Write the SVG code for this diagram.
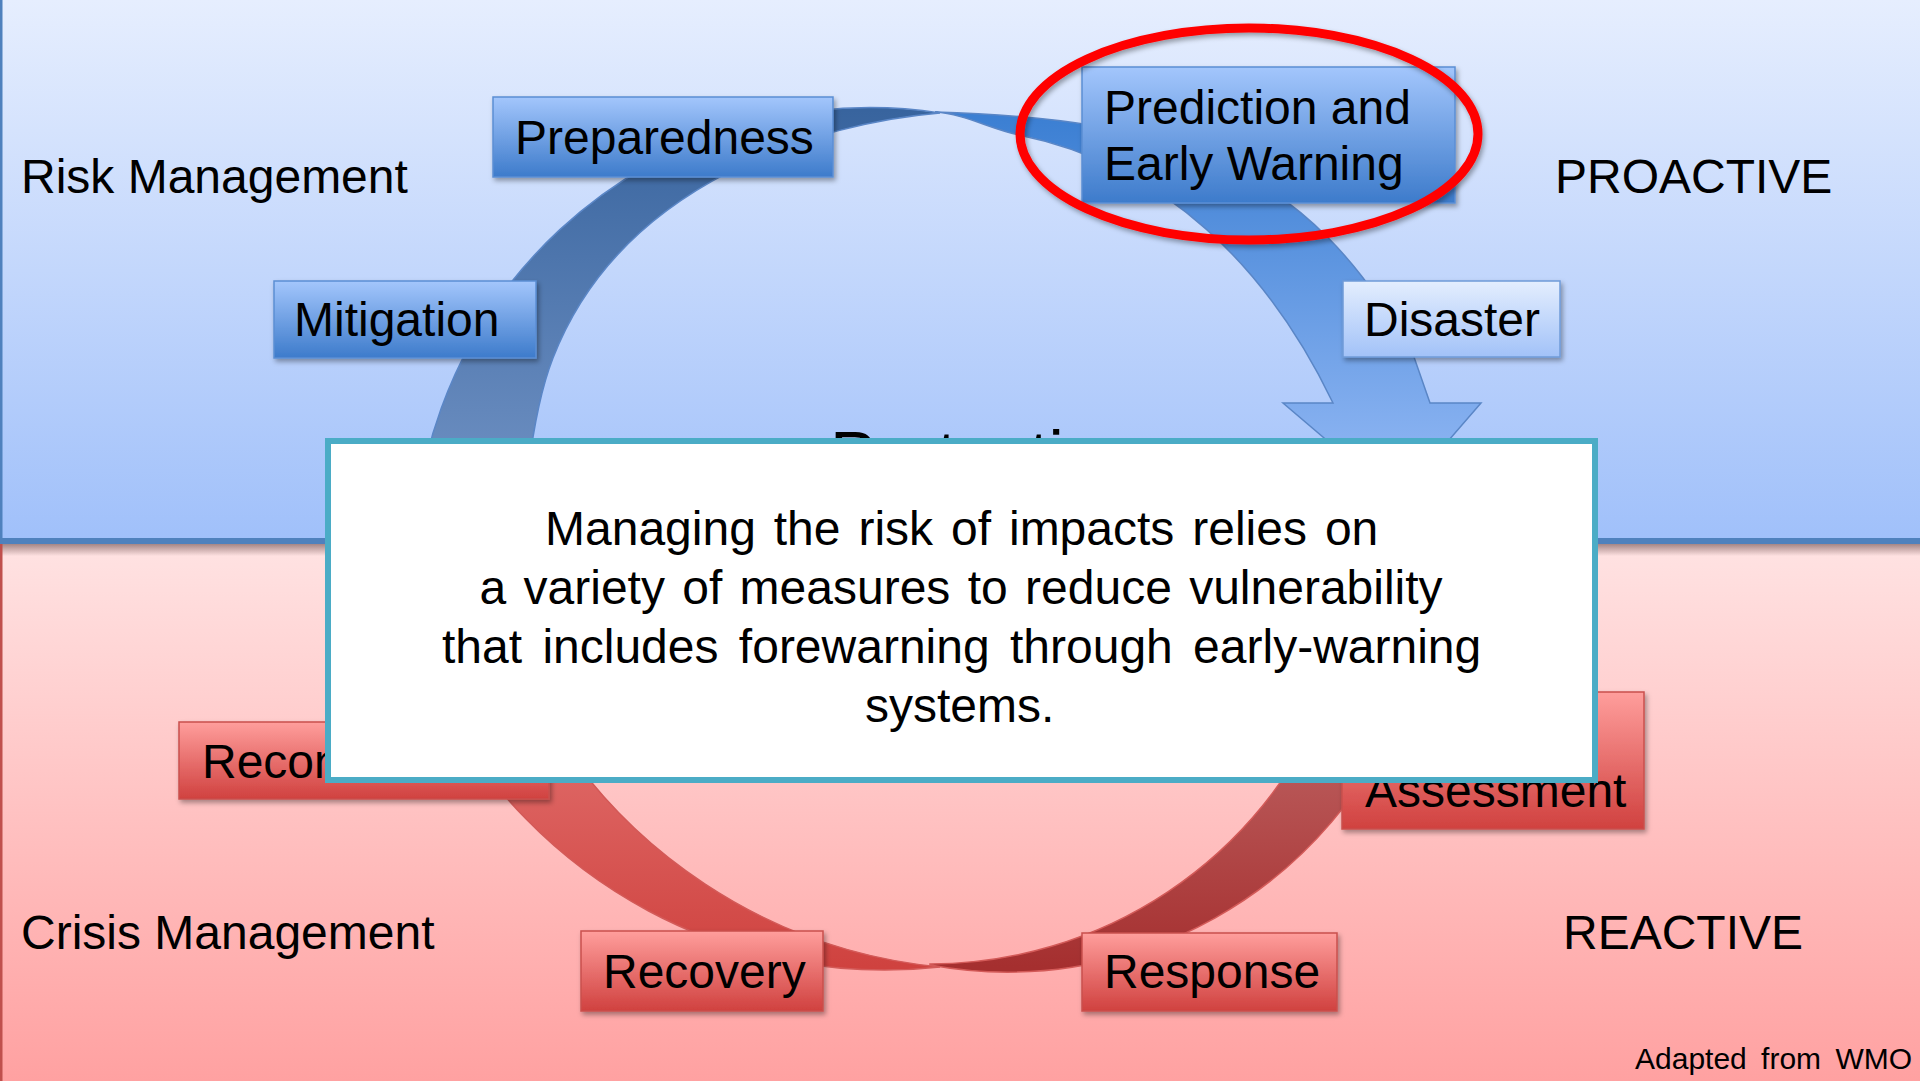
<svg xmlns="http://www.w3.org/2000/svg" width="1920" height="1081" viewBox="0 0 1920 1081">
  <style>
    text { font-family: "Liberation Sans", Arial, sans-serif; fill: #000; }
    .lbl { font-size: 48px; }
    .side { font-size: 48px; }
    .body { font-size: 48px; }
    .note { font-size: 30px; word-spacing: 6px; }
    .nb { fill: url(#boxBlue); stroke: #5b8ed4; stroke-width: 1.5; }
    .np { fill: url(#boxPale); stroke: #6f9bd8; stroke-width: 1.5; }
    .nr { fill: url(#boxRed); stroke: #c9504d; stroke-width: 1.5; }
    .arcB { stroke: #5a86c6; stroke-width: 1.5; }
    .arcR { stroke: #d35a58; stroke-width: 1.5; }
  </style>
  <defs>
    <linearGradient id="skyGrad" x1="0" y1="0" x2="0" y2="1">
      <stop offset="0" stop-color="#e6eefe"/>
      <stop offset="1" stop-color="#a0c0fa"/>
    </linearGradient>
    <linearGradient id="roseGrad" x1="0" y1="0" x2="0" y2="1">
      <stop offset="0" stop-color="#ffe3e3"/>
      <stop offset="1" stop-color="#ffa1a1"/>
    </linearGradient>
    <linearGradient id="seamShadow" x1="0" y1="0" x2="0" y2="1">
      <stop offset="0" stop-color="#5a3a3a" stop-opacity="0.55"/>
      <stop offset="1" stop-color="#5a3a3a" stop-opacity="0"/>
    </linearGradient>
    <linearGradient id="boxBlue" x1="0" y1="0" x2="0" y2="1">
      <stop offset="0" stop-color="#a3c6fc"/>
      <stop offset="1" stop-color="#3d7bcb"/>
    </linearGradient>
    <linearGradient id="boxPale" x1="0" y1="0" x2="0" y2="1">
      <stop offset="0" stop-color="#e4eefe"/>
      <stop offset="1" stop-color="#a2c2f8"/>
    </linearGradient>
    <linearGradient id="boxRed" x1="0" y1="0" x2="0" y2="1">
      <stop offset="0" stop-color="#ff9e9c"/>
      <stop offset="1" stop-color="#d0413f"/>
    </linearGradient>
    <linearGradient id="arcBlueL" gradientUnits="userSpaceOnUse" x1="0" y1="110" x2="0" y2="600">
      <stop offset="0" stop-color="#38649e"/>
      <stop offset="1" stop-color="#7e9dcd"/>
    </linearGradient>
    <linearGradient id="arcBlueR" gradientUnits="userSpaceOnUse" x1="0" y1="110" x2="0" y2="500">
      <stop offset="0" stop-color="#3a7ed2"/>
      <stop offset="1" stop-color="#95baf6"/>
    </linearGradient>
    <linearGradient id="arcRedL" gradientUnits="userSpaceOnUse" x1="0" y1="700" x2="0" y2="967">
      <stop offset="0" stop-color="#e37270"/>
      <stop offset="1" stop-color="#cf423f"/>
    </linearGradient>
    <linearGradient id="arcRedR" gradientUnits="userSpaceOnUse" x1="0" y1="700" x2="0" y2="967">
      <stop offset="0" stop-color="#c06666"/>
      <stop offset="1" stop-color="#a52f2f"/>
    </linearGradient>
    <filter id="shadow" x="-10%" y="-20%" width="125%" height="150%">
      <feDropShadow dx="2" dy="3" stdDeviation="2.5" flood-color="#000" flood-opacity="0.35"/>
    </filter>
  </defs>

  <!-- background bands -->
  <g id="background">
    <rect x="0" y="0" width="1920" height="541" fill="url(#skyGrad)"/>
    <rect x="0" y="541" width="1920" height="540" fill="url(#roseGrad)"/>
    <rect x="0" y="544" width="1920" height="12" fill="url(#seamShadow)"/>
    <rect x="0" y="538" width="1920" height="6" fill="#4f81bd"/>
    <rect x="0" y="0" width="2.5" height="538" fill="#4f81bd"/>
    <rect x="0" y="544" width="2.5" height="537" fill="#c0504d"/>
  </g>

  <!-- cycle arcs -->
  <g id="connectors">
    <path class="arcB" fill="url(#arcBlueL)" d="M 415 600 A 457 457 0 0 1 940 113 C 820 123 622 181 553 358 C 531 414 520 520 520 600 Z"/>
    <path class="arcB" fill="url(#arcBlueR)" d="M 935 112 C 1175 119 1309 164 1414 357 L 1430 403 L 1481 403 L 1397 500 L 1283 403 L 1333 403 C 1268 268 1166 165 1019 135 C 990 129 965 114 935 112 Z"/>
    <path class="arcR" fill="url(#arcRedL)" d="M 440 700 A 501 501 0 0 0 940 967 A 516 516 0 0 1 536 700 Z"/>
    <path class="arcR" fill="url(#arcRedR)" d="M 930 965 A 425 425 0 0 0 1404 700 L 1326 700 A 430 430 0 0 1 930 964 Z"/>
  </g>

  <!-- phase nodes -->
  <g id="node-preparedness">
    <rect class="nb" x="493" y="97" width="340" height="80" filter="url(#shadow)"/>
    <text class="lbl" x="515" y="154">Preparedness</text>
  </g>
  <g id="node-mitigation">
    <rect class="nb" x="274" y="281" width="262" height="77" filter="url(#shadow)"/>
    <text class="lbl" x="294" y="336">Mitigation</text>
  </g>
  <g id="node-prediction">
    <rect class="nb" x="1082" y="67" width="373" height="136" filter="url(#shadow)"/>
    <text class="lbl" x="1104" y="124">Prediction and</text>
    <text class="lbl" x="1104" y="180">Early Warning</text>
  </g>
  <g id="node-disaster">
    <rect class="np" x="1343" y="281" width="217" height="76" filter="url(#shadow)"/>
    <text class="lbl" x="1364" y="336">Disaster</text>
  </g>
  <g id="node-reconstruction">
    <rect class="nr" x="179" y="722" width="370" height="77" filter="url(#shadow)"/>
    <text class="lbl" x="202" y="778">Reconstruction</text>
  </g>
  <g id="node-recovery">
    <rect class="nr" x="581" y="931" width="242" height="80" filter="url(#shadow)"/>
    <text class="lbl" x="603" y="988">Recovery</text>
  </g>
  <g id="node-response">
    <rect class="nr" x="1082" y="933" width="255" height="78" filter="url(#shadow)"/>
    <text class="lbl" x="1104" y="988">Response</text>
  </g>
  <g id="node-assessment">
    <rect class="nr" x="1342" y="692" width="302" height="137" filter="url(#shadow)"/>
    <text class="lbl" x="1365" y="807">Assessment</text>
  </g>

  <!-- band captions -->
  <g id="captions">
    <text class="side" x="21" y="193">Risk Management</text>
    <text class="side" x="1555" y="193">PROACTIVE</text>
    <text class="side" x="21" y="949">Crisis Management</text>
    <text class="side" x="1563" y="949">REACTIVE</text>
    <text class="note" x="1635" y="1069">Adapted from WMO</text>
  </g>

  <!-- highlight around the early-warning phase -->
  <g id="highlight">
    <ellipse cx="1249" cy="134" rx="229" ry="106" fill="none" stroke="#ff0000" stroke-width="9" filter="url(#shadow)"/>
  </g>

  <!-- centre title, mostly covered by the callout -->
  <text x="830" y="479" style="font-size:69px">Protection</text>

  <!-- callout -->
  <g id="callout">
    <rect x="328" y="441" width="1267" height="339" fill="#ffffff" stroke="#4bacc6" stroke-width="6"/>
    <text class="body" x="545" y="545" style="word-spacing:4.6px">Managing the risk of impacts relies on</text>
    <text class="body" x="479.5" y="604" style="word-spacing:4px">a variety of measures to reduce vulnerability</text>
    <text class="body" x="442" y="663" style="word-spacing:7px">that includes forewarning through early-warning</text>
    <text class="body" x="865" y="722">systems.</text>
  </g>
</svg>
